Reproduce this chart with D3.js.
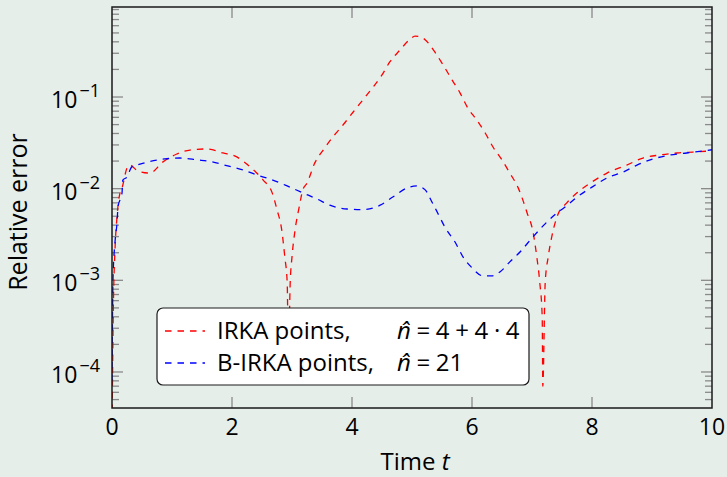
<!DOCTYPE html>
<html>
<head>
<meta charset="utf-8">
<script src="https://cdn.jsdelivr.net/npm/d3@7"></script>
<style>
	html, body { margin: 0; padding: 0; background: #e6eeea; }
	svg { display: block; font-family: 'Open Sans', 'DejaVu Sans', sans-serif; }
</style>
</head>
<body>
<svg id="chart" width="727" height="477"></svg>
<script>
// IRKA points (red)
const tRed = [0, 0.02, 0.05, 0.083, 0.133, 0.167, 0.25, 0.3, 0.43, 0.63, 0.85, 1.08, 1.3, 1.58, 1.85, 2.08, 2.3, 2.52, 2.67, 2.75, 2.83, 2.88, 2.92, 2.94, 2.97, 3.0, 3.05, 3.12, 3.18, 3.25, 3.38, 3.52, 3.68, 3.85, 4.02, 4.18, 4.35, 4.5, 4.63, 4.8, 4.97, 5.05, 5.18, 5.38, 5.52, 5.67, 5.8, 5.93, 6.08, 6.22, 6.35, 6.5, 6.63, 6.77, 6.92, 7.02, 7.08, 7.13, 7.17, 7.18, 7.22, 7.27, 7.33, 7.43, 7.58, 7.75, 7.97, 8.25, 8.58, 8.85, 9.13, 9.42, 9.68, 10];
const errRed = [2e-5, 4e-4, 0.00215, 0.0049, 0.009, 0.0102, 0.0168, 0.0181, 0.0156, 0.0148, 0.0196, 0.0239, 0.0264, 0.0271, 0.0245, 0.0222, 0.0173, 0.0124, 0.009, 0.0059, 0.0035, 0.0018, 0.00094, 1.5e-4, 0.00094, 0.0018, 0.0035, 0.0063, 0.0097, 0.0115, 0.0191, 0.0264, 0.0366, 0.0495, 0.0686, 0.0927, 0.128, 0.174, 0.241, 0.326, 0.428, 0.462, 0.44, 0.31, 0.223, 0.153, 0.111, 0.0759, 0.0561, 0.0405, 0.0285, 0.0206, 0.0148, 0.0102, 0.0054, 0.0033, 0.0018, 0.00094, 0.0004, 7e-5, 0.00094, 0.0018, 0.003, 0.0052, 0.007, 0.009, 0.0115, 0.0148, 0.0181, 0.0216, 0.0233, 0.0245, 0.0251, 0.0258];

// B-IRKA points (blue)
const tBlue = [0, 0.017, 0.05, 0.083, 0.1, 0.167, 0.18, 0.25, 0.33, 0.42, 0.6, 0.88, 1.13, 1.42, 1.67, 1.93, 2.18, 2.42, 2.68, 2.92, 3.18, 3.42, 3.63, 3.92, 4.18, 4.47, 4.68, 4.92, 5.08, 5.22, 5.33, 5.43, 5.55, 5.72, 5.85, 6.0, 6.18, 6.33, 6.47, 6.63, 6.8, 7.02, 7.18, 7.38, 7.55, 7.75, 8.0, 8.25, 8.52, 8.75, 9.02, 9.3, 9.58, 10];
const errBlue = [8e-5, 0.00106, 0.0026, 0.0042, 0.0063, 0.009, 0.0124, 0.0134, 0.0173, 0.0181, 0.0196, 0.0211, 0.0216, 0.0206, 0.0196, 0.0177, 0.016, 0.0141, 0.0124, 0.0107, 0.009, 0.0077, 0.0066, 0.006, 0.0059, 0.0066, 0.0081, 0.0102, 0.0107, 0.0097, 0.0072, 0.0054, 0.0038, 0.0026, 0.0018, 0.00137, 0.00112, 0.00112, 0.00124, 0.00159, 0.00204, 0.003, 0.0039, 0.0052, 0.0063, 0.0081, 0.0104, 0.0131, 0.0152, 0.0181, 0.0211, 0.0233, 0.0245, 0.0266];

const xTicks = [0, 2, 4, 6, 8, 10];
const yExps = [-4, -3, -2, -1];
const legendLabels = [
	{ text: 'IRKA points,', math: ' = 4 + 4 · 4' },
	{ text: 'B-IRKA points,', math: ' = 21' },
];
const colors = ['#ff0000', '#0000ff'];

const svg = d3.select('#chart');
const x0 = 112, x1 = 712, y0 = 7, y1 = 408;

const x = d3.scaleLinear([0, 10], [x0, x1]);
const y = d3.scaleLog([Math.pow(10, -4.393), Math.pow(10, -0.018)], [y1, y0]);

svg.append('rect')
	.attr('width', 727).attr('height', 477)
	.style('fill', '#e6eeea');

svg.append('clipPath').attr('id', 'plot-clip')
	.append('rect')
	.attr('x', x0).attr('y', y0)
	.attr('width', x1 - x0).attr('height', y1 - y0);

// minor ticks on log axis
const minors = [];
for (let k = -5; k <= 0; k++) {
	for (let m = 2; m <= 9; m++) {
		const v = m * Math.pow(10, k);
		if (v >= y.domain()[0] && v <= y.domain()[1]) minors.push(v);
	}
}

const ticks = svg.append('g').attr('class', 'ticks')
	.style('stroke', '#8a8a8a').style('stroke-width', 1.3);

[x0, x1].forEach((xs, i) => {
	const dir = i === 0 ? 1 : -1;
	ticks.selectAll(null).data(minors).enter().append('line')
		.attr('x1', xs).attr('x2', xs + dir * 7)
		.attr('y1', d => y(d)).attr('y2', d => y(d));
	ticks.selectAll(null).data(yExps).enter().append('line')
		.attr('x1', xs).attr('x2', xs + dir * 11)
		.attr('y1', d => y(Math.pow(10, d))).attr('y2', d => y(Math.pow(10, d)));
});
[y1, y0].forEach((ys, i) => {
	const dir = i === 0 ? -1 : 1;
	ticks.selectAll(null).data(xTicks.slice(1, -1)).enter().append('line')
		.attr('x1', d => x(d)).attr('x2', d => x(d))
		.attr('y1', ys).attr('y2', ys + dir * 11);
});

// curves
const line = d3.line()
	.x(d => x(d[0]))
	.y(d => y(d[1]))
	.curve(d3.curveMonotoneX);

const series = [
	d3.zip(tRed, errRed),
	d3.zip(tBlue, errBlue),
];

svg.append('g').attr('clip-path', 'url(#plot-clip)')
	.selectAll('path').data(series).enter().append('path')
	.attr('d', line)
	.style('fill', 'none')
	.style('stroke', (d, i) => colors[i])
	.style('stroke-width', 1.3)
	.style('stroke-dasharray', '6.5,6');

// frame
svg.append('rect')
	.attr('x', x0).attr('y', y0)
	.attr('width', x1 - x0).attr('height', y1 - y0)
	.style('fill', 'none').style('stroke', '#1a1a1a').style('stroke-width', 1.5);

// tick labels
svg.append('g').selectAll('text').data(xTicks).enter().append('text')
	.attr('x', d => x(d)).attr('y', 435)
	.attr('text-anchor', 'middle')
	.style('font-size', '23px')
	.text(d => d);

const ylab = svg.append('g').selectAll('text').data(yExps).enter().append('text')
	.attr('x', 100).attr('y', d => y(Math.pow(10, d)) + 11)
	.attr('text-anchor', 'end')
	.style('font-size', '23px');
ylab.append('tspan').text('10');
ylab.append('tspan')
	.attr('dy', -11).attr('dx', 2)
	.style('font-size', '18px')
	.text(d => '\u2212' + (-d));

// axis labels
svg.append('text')
	.attr('transform', `translate(${[27, 212]}) rotate(-90)`)
	.attr('text-anchor', 'middle')
	.style('font-size', '25px')
	.text('Relative error');

const xl = svg.append('text')
	.attr('x', 415).attr('y', 470)
	.attr('text-anchor', 'middle')
	.style('font-size', '24px');
xl.append('tspan').text('Time ');
xl.append('tspan').style('font-style', 'italic').text('t');

// legend
const legend = svg.append('g').attr('class', 'legend')
	.attr('transform', `translate(${[157, 308]})`);
legend.append('rect')
	.attr('width', 372).attr('height', 77)
	.attr('rx', 6)
	.style('fill', '#fff').style('stroke', '#1a1a1a').style('stroke-width', 1.2);

const rows = legend.selectAll('g.row').data(legendLabels).enter().append('g')
	.attr('class', 'row')
	.attr('transform', (d, i) => `translate(${[0, 23 + i * 32]})`);
rows.append('line')
	.attr('x1', 8).attr('x2', 48)
	.style('stroke', (d, i) => colors[i])
	.style('stroke-width', 1.3)
	.style('stroke-dasharray', '6.5,6');
const lt = rows.append('text')
	.attr('x', 60).attr('y', 8)
	.style('font-size', '24px');
lt.append('tspan').text(d => d.text);
lt.append('tspan').attr('x', 240).style('font-style', 'italic').text('n\u0302');
lt.append('tspan').style('word-spacing', '-0.6px').text(d => d.math);
</script>
</body>
</html>
